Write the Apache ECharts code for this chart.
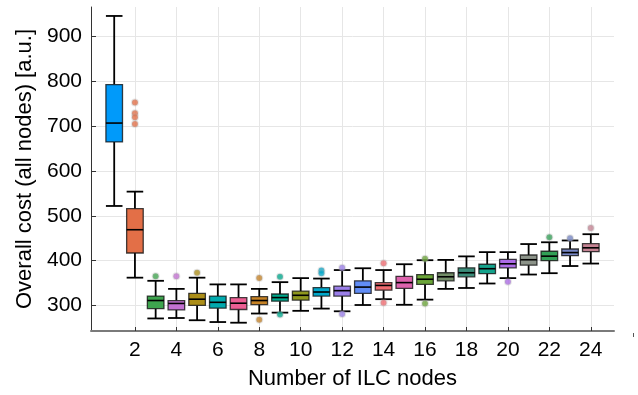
<!DOCTYPE html>
<html>
<head>
<meta charset="utf-8">
<title>Overall cost vs number of ILC nodes</title>
<script src="https://cdn.jsdelivr.net/npm/echarts@6/dist/echarts.min.js"></script>
<style>
  html, body { margin: 0; padding: 0; background: #ffffff; }
  #chart { width: 638px; height: 395px; }
</style>
</head>
<body>
<div id="chart"></div>
<script>
// Number of ILC nodes (one box per node count)
const nodeCounts = [1, 2, 3, 4, 5, 6, 7, 8, 9, 10, 11, 12, 13, 14, 15, 16, 17, 18, 19, 20, 21, 22, 23, 24];

// Box statistics of the overall cost [a.u.]
const whiskerLow  = [522, 362, 271, 272, 267, 263, 261.5, 282, 284, 288, 293, 287, 301, 314, 301.5, 313, 337, 339, 349, 361, 369, 372, 388, 393.5];
const quartile1   = [665, 417, 293, 290, 300, 294, 291, 302, 309.6, 312, 321, 321, 327, 334, 338, 347, 355, 364, 371, 384, 390, 400, 411, 420];
const medianCost  = [707, 469, 311, 304.5, 314, 307, 305, 311, 317.6, 322.7, 330, 333, 341, 344.7, 351, 358.5, 364, 373, 382, 393, 402, 410, 418, 428.6];
const quartile3   = [793, 516, 321, 311, 327, 321, 317.5, 319.5, 325.6, 332, 340, 343, 355, 351, 365, 369, 373, 384, 392, 403, 412.6, 421, 426, 438];
const whiskerHigh = [946, 554, 355, 337, 362, 347, 347, 337, 352, 361, 360, 379, 383, 379, 392, 401, 401.6, 409.5, 419, 419, 437, 441, 445, 459];

// Outliers: node count and cost
const outlierNodes = [2, 2, 2, 2, 3, 4, 5, 8, 8, 9, 9, 11, 11, 12, 12, 14, 14, 16, 16, 20, 22, 23, 24];
const outlierCost  = [753, 729, 720, 705, 365, 365, 373, 361, 268, 364, 280, 378, 372, 384, 281, 394, 306, 404.5, 304.4, 353, 452, 450, 473];

// Tick labels
const xTicks = [2, 4, 6, 8, 10, 12, 14, 16, 18, 20, 22, 24];
const yTicks = [300, 400, 500, 600, 700, 800, 900];

// One colour per node count
const boxColors = [
  '#009AFA', '#E36F47', '#3EA44E', '#C371D2', '#AC8E18', '#00AAAE',
  '#ED5E93', '#C68225', '#00A98D', '#8E971E', '#00A8CB', '#9B7FE9',
  '#618DF6', '#F06C71', '#DD63AD', '#6BA539', '#738D68', '#3A8B78',
  '#14A38C', '#AD6BE6', '#8C9389', '#32A056', '#7686C4', '#C58393'
];

const BOX_WIDTH = 0.8;
const FONT = '"Liberation Sans", Arial, Helvetica, sans-serif';

const boxData = nodeCounts.map((n, i) => [n, whiskerLow[i], quartile1[i], medianCost[i], quartile3[i], whiskerHigh[i]]);
const outlierData = outlierNodes.map((n, i) => ({
  value: [n, outlierCost[i]],
  itemStyle: { color: boxColors[nodeCounts.indexOf(n)] }
}));

function renderBox(params, api) {
  const x = api.value(0);
  const pLow = api.coord([x, api.value(1)]);
  const pQ1 = api.coord([x, api.value(2)]);
  const pMed = api.coord([x, api.value(3)]);
  const pQ3 = api.coord([x, api.value(4)]);
  const pHigh = api.coord([x, api.value(5)]);
  const w = api.size([BOX_WIDTH, 0])[0];
  const cx = pMed[0];
  const left = cx - w / 2;
  const right = cx + w / 2;
  const whisker = { stroke: '#000', lineWidth: 1.8 };
  return {
    type: 'group',
    children: [
      { type: 'line', shape: { x1: cx, y1: pHigh[1], x2: cx, y2: pQ3[1] }, style: whisker },
      { type: 'line', shape: { x1: cx, y1: pQ1[1], x2: cx, y2: pLow[1] }, style: whisker },
      { type: 'line', shape: { x1: left, y1: pHigh[1], x2: right, y2: pHigh[1] }, style: whisker },
      { type: 'line', shape: { x1: left, y1: pLow[1], x2: right, y2: pLow[1] }, style: whisker },
      {
        type: 'rect',
        shape: { x: left, y: pQ3[1], width: w, height: pQ1[1] - pQ3[1] },
        style: { fill: boxColors[params.dataIndex], stroke: 'rgba(20,20,20,0.8)', lineWidth: 1.3 }
      },
      { type: 'line', shape: { x1: left, y1: pMed[1], x2: right, y2: pMed[1] }, style: { stroke: '#000', lineWidth: 1.6 } }
    ]
  };
}

const chart = echarts.init(document.getElementById('chart'), null, { renderer: 'canvas' });

chart.setOption({
  backgroundColor: '#ffffff',
  animation: false,
  textStyle: { fontFamily: FONT },
  grid: { left: 91, right: 24, top: 7, height: 330, containLabel: false },
  xAxis: {
    type: 'value',
    min: -0.12,
    max: 25.12,
    name: 'Number of ILC nodes',
    nameLocation: 'middle',
    nameGap: 37,
    nameTextStyle: { fontSize: 22, color: '#000', fontFamily: FONT },
    axisLine: { show: true, onZero: false, lineStyle: { color: '#7a7a7a', width: 2 } },
    axisTick: { show: true, inside: true, length: 4, customValues: xTicks, lineStyle: { color: '#333', width: 1 } },
    axisLabel: { customValues: xTicks, fontSize: 21, color: '#000', margin: 9, fontFamily: FONT },
    splitLine: { show: true, lineStyle: { color: '#e6e6e6', width: 1 } }
  },
  yAxis: {
    type: 'value',
    min: 243,
    max: 966,
    name: 'Overall cost (all nodes) [a.u.]',
    nameLocation: 'middle',
    nameGap: 52,
    nameTextStyle: { fontSize: 22, color: '#000', fontFamily: FONT },
    axisLine: { show: true, onZero: false, lineStyle: { color: '#333', width: 1 } },
    axisTick: { show: true, inside: true, length: 5, customValues: yTicks, lineStyle: { color: '#333', width: 1 } },
    axisLabel: { customValues: yTicks, fontSize: 21, color: '#000', margin: 9, fontFamily: FONT },
    splitLine: { show: true, lineStyle: { color: '#e6e6e6', width: 1 } }
  },
  series: [
    {
      type: 'custom',
      name: 'cost',
      renderItem: renderBox,
      encode: { x: 0, y: [1, 2, 3, 4, 5] },
      data: boxData,
      z: 2
    },
    {
      type: 'scatter',
      name: 'outliers',
      symbol: 'circle',
      symbolSize: 6,
      data: outlierData,
      itemStyle: { borderColor: 'rgba(170,170,170,0.35)', borderWidth: 2 },
      z: 3
    }
  ],
  graphic: [
    { type: 'line', shape: { x1: 633.5, y1: 333, x2: 633.5, y2: 337 }, style: { stroke: '#555', lineWidth: 1 } }
  ]
});
</script>
</body>
</html>
